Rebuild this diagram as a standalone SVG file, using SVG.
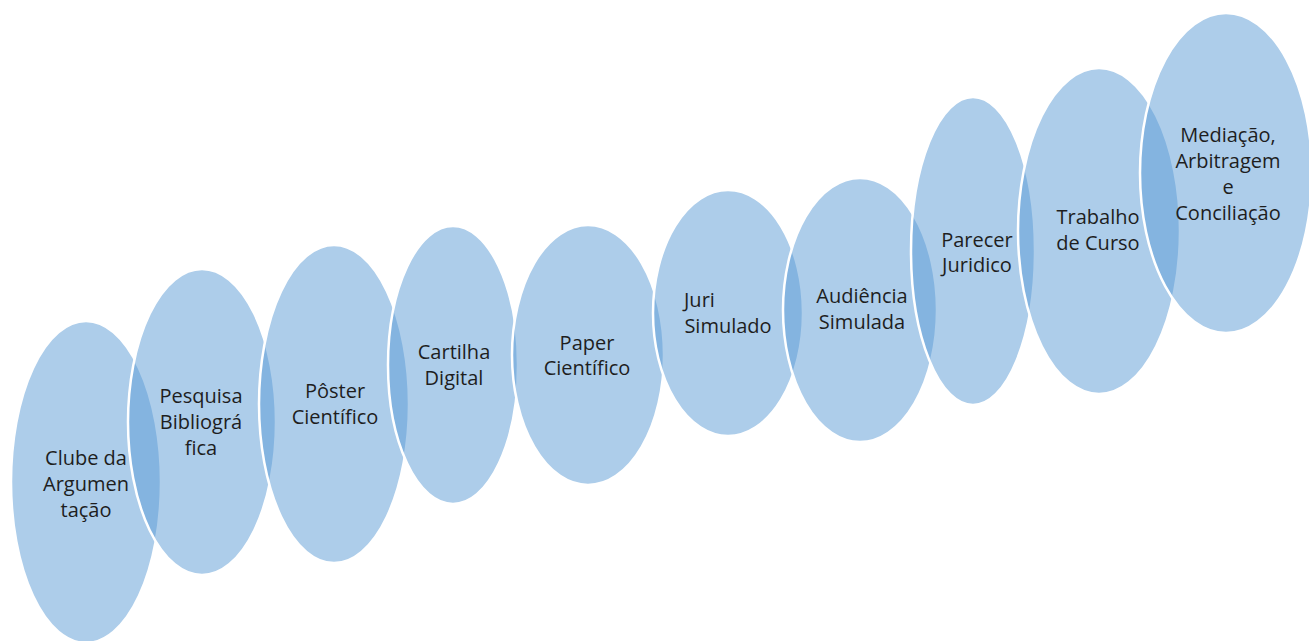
<svg xmlns="http://www.w3.org/2000/svg" width="1309" height="641" viewBox="0 0 1309 641">
<style>
.n{fill:#5B9BD5;fill-opacity:0.5;stroke:#ffffff;stroke-width:2.5}
text{font-family:"Open Sans","Liberation Sans",sans-serif;font-size:20px;fill:#1e1e1e;text-anchor:middle}
.l{text-anchor:start}
</style>
<rect width="1309" height="641" fill="#ffffff"/>
<g id="n1"><ellipse class="n" cx="86" cy="482" rx="75" ry="161"/>
<text x="86" y="465">Clube da</text><text x="86" y="491">Argumen</text><text x="86" y="517">tação</text></g>
<g id="n2"><ellipse class="n" cx="202" cy="422" rx="74" ry="153"/>
<text x="201" y="403">Pesquisa</text><text x="201" y="429">Bibliográ</text><text x="201" y="455">fica</text></g>
<g id="n3"><ellipse class="n" cx="334" cy="404" rx="75" ry="159"/>
<text x="335" y="398">Pôster</text><text x="335" y="424">Científico</text></g>
<g id="n4"><ellipse class="n" cx="453" cy="365" rx="65" ry="139"/>
<text x="454" y="359">Cartilha</text><text x="454" y="385">Digital</text></g>
<g id="n5"><ellipse class="n" cx="588" cy="355" rx="76" ry="130"/>
<text x="587" y="350">Paper</text><text x="587" y="375">Científico</text></g>
<g id="n6"><ellipse class="n" cx="728" cy="313" rx="75" ry="123"/>
<text class="l" x="684" y="307">Juri</text><text x="728" y="333">Simulado</text></g>
<g id="n7"><ellipse class="n" cx="860" cy="310" rx="77" ry="132"/>
<text x="862" y="303">Audiência</text><text x="862" y="329">Simulada</text></g>
<g id="n8"><ellipse class="n" cx="973" cy="251" rx="62" ry="154"/>
<text x="977" y="247">Parecer</text><text x="977" y="272">Juridico</text></g>
<g id="n9"><ellipse class="n" cx="1099" cy="231" rx="81" ry="163"/>
<text x="1098" y="224">Trabalho</text><text x="1098" y="250">de Curso</text></g>
<g id="n10"><ellipse class="n" cx="1226" cy="173" rx="86" ry="160"/>
<text x="1228" y="142">Mediação,</text><text x="1228" y="168">Arbitragem</text><text x="1228" y="194">e</text><text x="1228" y="220">Conciliação</text></g>
<g id="connectors"></g>
</svg>
